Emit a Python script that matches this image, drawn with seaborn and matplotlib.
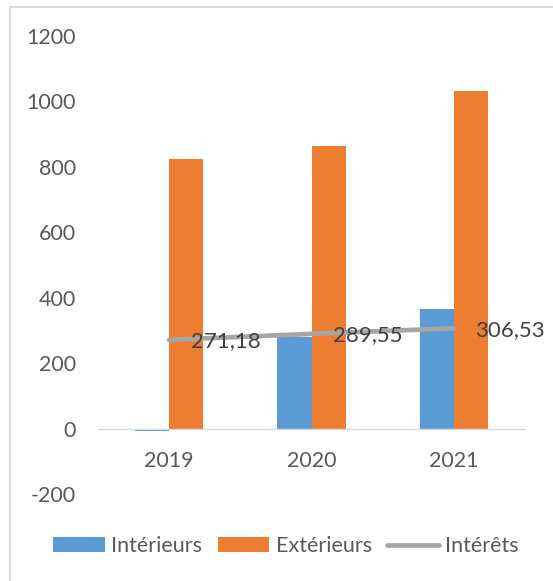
import numpy as np
import pandas as pd
import matplotlib
matplotlib.use("Agg")
import matplotlib.pyplot as plt
from matplotlib.lines import Line2D
from matplotlib.patches import Patch
import seaborn as sns

# ---- data ----
years = ["2019", "2020", "2021"]
interieurs = [-7, 280, 365]
exterieurs = [824, 864, 1032]
interets = [271.18, 289.55, 306.53]
interets_labels = ["271,18", "289,55", "306,53"]
series_names = ["Intérieurs", "Extérieurs", "Intérêts"]
yticks = [-200, 0, 200, 400, 600, 800, 1000, 1200]

BLUE = "#5B9BD5"
ORANGE = "#ED7D31"
GRAY = "#A5A5A5"
TXT = "#595959"
LBL = "#404040"

sns.set_theme(style="white")
plt.rcParams["font.family"] = ["Lato", "DejaVu Sans"]

df = pd.DataFrame({
    "Année": years * 2,
    "Valeur": interieurs + exterieurs,
    "Série": [series_names[0]] * 3 + [series_names[1]] * 3,
})

fig = plt.figure(figsize=(5.53, 5.81), dpi=100)
ax = fig.add_axes([98 / 553, 1 - 494 / 581, 427 / 553, (494 - 36) / 581])

sns.barplot(data=df, x="Année", y="Valeur", hue="Série",
            palette=[BLUE, ORANGE], width=0.48, ax=ax, legend=False,
            saturation=1, edgecolor="none")

xpos = np.arange(len(years))
sns.lineplot(x=xpos, y=interets, color=GRAY, linewidth=3.4, ax=ax,
             zorder=4, solid_capstyle="round")

for xi, v, s in zip(xpos, interets, interets_labels):
    ax.annotate(s, (xi, v), xytext=(15.5, -1), textcoords="offset points",
                ha="left", va="center", fontsize=16, color=LBL, zorder=5)

ax.set_ylim(-200, 1200)
ax.set_xlim(-0.5, len(years) - 0.5)
ax.set_yticks(yticks)
ax.set_yticklabels([str(t) for t in yticks])
ax.set_xlabel("")
ax.set_ylabel("")
ax.grid(False)
for side in ["top", "right", "left"]:
    ax.spines[side].set_visible(False)
ax.spines["bottom"].set_position(("data", 0))
ax.spines["bottom"].set_color("#D9D9D9")
ax.spines["bottom"].set_linewidth(1.0)
ax.tick_params(axis="y", length=0, pad=16, labelsize=15.5, labelcolor=TXT)
ax.tick_params(axis="x", length=0, pad=16, labelsize=15.5, labelcolor=TXT)

handles = [
    Patch(facecolor=BLUE, edgecolor="none"),
    Patch(facecolor=ORANGE, edgecolor="none"),
    Line2D([0], [0], color=GRAY, linewidth=3.4, solid_capstyle="round"),
]
leg = fig.legend(handles, series_names, loc="center",
                 bbox_to_anchor=(286 / 553, 1 - 546 / 581), ncol=3,
                 frameon=False, fontsize=15.5, handlelength=2.4,
                 handleheight=0.65, handletextpad=0.3, columnspacing=0.7,
                 borderpad=0, borderaxespad=0)
for t in leg.get_texts():
    t.set_color(TXT)

# chart area border (top and left visible)
fig.add_artist(Line2D([9.5 / 553, 1], [1 - 6.5 / 581, 1 - 6.5 / 581],
                      color="#D9D9D9", linewidth=1.5, transform=fig.transFigure))
fig.add_artist(Line2D([9.5 / 553, 9.5 / 553], [0, 1 - 6.5 / 581],
                      color="#D9D9D9", linewidth=1.5, transform=fig.transFigure))

fig.savefig("out.png", dpi=100, facecolor="white")
